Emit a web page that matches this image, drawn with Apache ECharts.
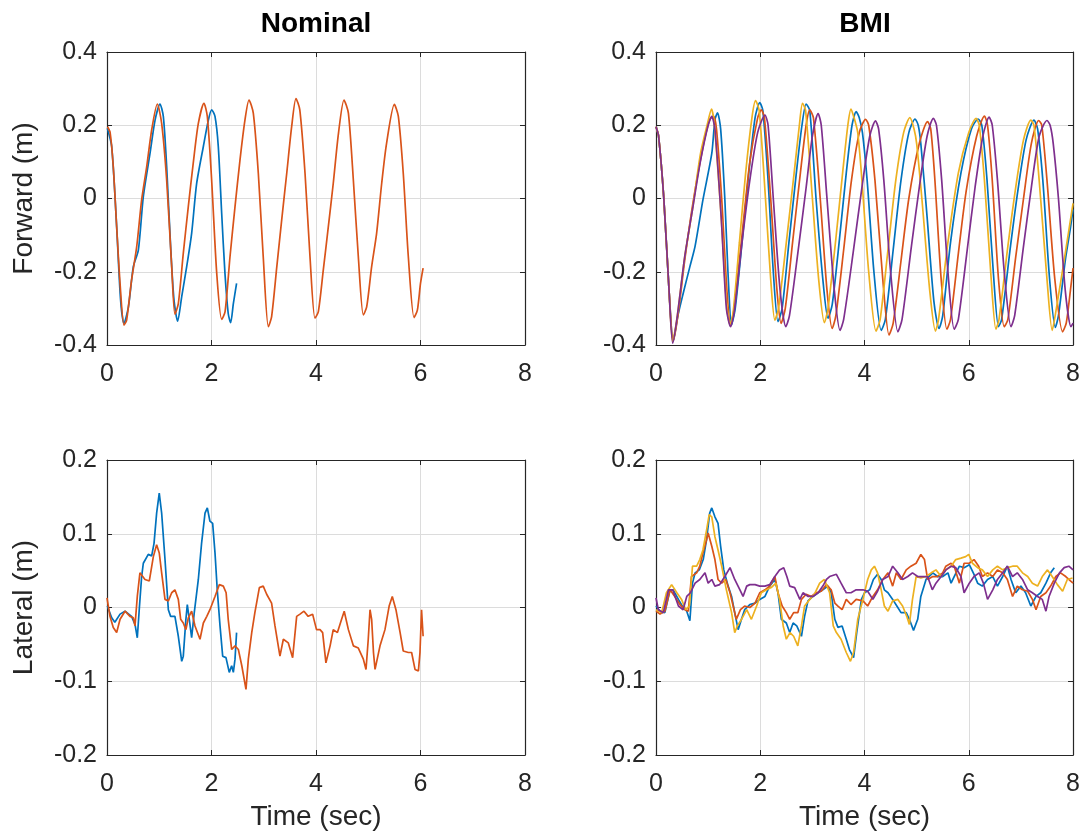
<!DOCTYPE html>
<html><head><meta charset="utf-8">
<script src="https://cdn.jsdelivr.net/npm/echarts@6/dist/echarts.min.js"></script>
<style>html,body{margin:0;padding:0;background:#fff}#c{width:1083px;height:840px}</style>
</head><body><div id="c"></div><script>
const titles = ['Nominal', 'BMI'];
const yNames = ['Forward (m)', 'Lateral (m)'];
const xName = 'Time (sec)';
const xTicks = [0, 2, 4, 6, 8];
const fwdTicks = [-0.4, -0.2, 0, 0.2, 0.4];
const latTicks = [-0.2, -0.1, 0, 0.1, 0.2];
const colors = ['#0072BD', '#D95319', '#EDB120', '#7E2F8E'];

// Nominal, forward (m)
const nomFwdBlue = [[0.006,0.192],[0.09,0.142],[0.185,-0.077],[0.26,-0.277],[0.325,-0.341],[0.41,-0.296],[0.504,-0.186],[0.6,-0.141],[0.695,0.005],[0.823,0.123],[0.92,0.214],[1.014,0.258],[1.078,0.224],[1.142,0.087],[1.218,-0.132],[1.282,-0.277],[1.352,-0.335],[1.43,-0.268],[1.525,-0.186],[1.62,-0.095],[1.716,0.041],[1.844,0.142],[1.94,0.214],[2.003,0.242],[2.067,0.224],[2.13,0.142],[2.195,-0.041],[2.258,-0.205],[2.32,-0.314],[2.367,-0.339],[2.418,-0.287],[2.48,-0.232]];
const nomFwdOrange = [[0.01,0.196],[0.06,0.18],[0.12,0.087],[0.185,-0.077],[0.25,-0.232],[0.325,-0.346],[0.376,-0.332],[0.47,-0.223],[0.568,-0.132],[0.663,-0.004],[0.76,0.087],[0.855,0.187],[0.963,0.258],[1.046,0.205],[1.142,0.05],[1.238,-0.186],[1.30,-0.316],[1.365,-0.287],[1.46,-0.15],[1.556,-0.022],[1.65,0.096],[1.748,0.205],[1.856,0.26],[1.92,0.224],[2.003,0.05],[2.10,-0.204],[2.195,-0.33],[2.26,-0.309],[2.354,-0.159],[2.45,-0.022],[2.545,0.105],[2.64,0.214],[2.718,0.269],[2.8,0.233],[2.896,0.069],[2.99,-0.159],[3.088,-0.35],[3.15,-0.323],[3.25,-0.186],[3.343,-0.059],[3.44,0.069],[3.534,0.196],[3.617,0.273],[3.69,0.242],[3.79,0.069],[3.885,-0.159],[3.98,-0.327],[4.045,-0.309],[4.14,-0.195],[4.236,-0.077],[4.33,0.041],[4.43,0.178],[4.536,0.269],[4.62,0.233],[4.715,0.05],[4.81,-0.159],[4.906,-0.318],[4.97,-0.296],[5.065,-0.186],[5.16,-0.095],[5.257,0.041],[5.35,0.15],[5.5,0.257],[5.576,0.224],[5.67,0.069],[5.767,-0.159],[5.876,-0.325],[5.94,-0.305],[6.0,-0.232],[6.05,-0.19]];

// BMI, forward (m)
const bmiFwdBlue = [[0,0.196],[0.05,0.17],[0.15,0.0],[0.25,-0.25],[0.33,-0.39],[0.42,-0.32],[0.52,-0.26],[0.65,-0.186],[0.75,-0.13],[0.9,-0.004],[1.07,0.123],[1.13,0.215],[1.18,0.234],[1.24,0.19],[1.32,0.0],[1.38,-0.2],[1.45,-0.345],[1.52,-0.3],[1.65,-0.12],[1.78,0.07],[1.9,0.22],[1.99,0.262],[2.05,0.24],[2.15,0.05],[2.25,-0.2],[2.34,-0.336],[2.42,-0.3],[2.55,-0.12],[2.7,0.08],[2.8,0.2],[2.88,0.258],[2.95,0.24],[3.07,0.0],[3.2,-0.22],[3.3,-0.327],[3.38,-0.29],[3.52,-0.11],[3.65,0.07],[3.76,0.2],[3.84,0.237],[3.9,0.22],[3.96,0.18],[4.05,0.05],[4.18,-0.2],[4.32,-0.36],[4.4,-0.33],[4.55,-0.14],[4.7,0.05],[4.85,0.18],[4.97,0.217],[5.03,0.2],[5.08,0.15],[5.2,-0.05],[5.33,-0.28],[5.43,-0.355],[5.5,-0.32],[5.65,-0.12],[5.85,0.07],[6.05,0.19],[6.18,0.217],[6.25,0.2],[6.35,0.05],[6.47,-0.2],[6.57,-0.35],[6.63,-0.33],[6.8,-0.13],[6.95,0.03],[7.1,0.16],[7.25,0.214],[7.32,0.19],[7.42,0.05],[7.55,-0.22],[7.66,-0.352],[7.72,-0.32],[7.85,-0.17],[7.95,-0.08],[8.0,-0.03]];
const bmiFwdOrange = [[0,0.196],[0.05,0.17],[0.15,0.0],[0.25,-0.25],[0.33,-0.39],[0.42,-0.32],[0.55,-0.17],[0.7,-0.02],[0.9,0.14],[1.03,0.215],[1.1,0.225],[1.16,0.19],[1.26,0.0],[1.36,-0.25],[1.43,-0.345],[1.5,-0.3],[1.65,-0.1],[1.8,0.1],[1.95,0.22],[2.02,0.242],[2.08,0.22],[2.2,0.0],[2.32,-0.25],[2.4,-0.341],[2.48,-0.3],[2.62,-0.12],[2.77,0.07],[2.88,0.2],[2.95,0.242],[3.02,0.22],[3.15,0.0],[3.28,-0.25],[3.38,-0.355],[3.45,-0.32],[3.6,-0.14],[3.75,0.05],[3.9,0.18],[4.02,0.216],[4.08,0.2],[4.2,0.05],[4.35,-0.22],[4.47,-0.373],[4.55,-0.34],[4.7,-0.17],[4.85,0.0],[5.05,0.15],[5.21,0.21],[5.27,0.19],[5.35,0.05],[5.47,-0.22],[5.58,-0.357],[5.65,-0.33],[5.8,-0.15],[5.95,0.02],[6.15,0.17],[6.3,0.225],[6.36,0.2],[6.45,0.05],[6.57,-0.22],[6.68,-0.35],[6.75,-0.33],[6.9,-0.16],[7.05,0.0],[7.2,0.15],[7.34,0.213],[7.4,0.2],[7.5,0.05],[7.65,-0.22],[7.8,-0.364],[7.87,-0.34],[7.95,-0.25],[8.0,-0.19]];
const bmiFwdYellow = [[0,0.196],[0.05,0.17],[0.15,0.0],[0.25,-0.25],[0.32,-0.39],[0.4,-0.33],[0.55,-0.16],[0.7,-0.03],[0.85,0.12],[0.98,0.2],[1.065,0.244],[1.12,0.2],[1.25,-0.05],[1.35,-0.28],[1.42,-0.345],[1.48,-0.31],[1.6,-0.12],[1.72,0.07],[1.84,0.22],[1.91,0.267],[1.98,0.24],[2.1,0.0],[2.2,-0.22],[2.28,-0.332],[2.35,-0.3],[2.5,-0.12],[2.65,0.07],[2.75,0.2],[2.81,0.26],[2.87,0.24],[3.0,0.0],[3.12,-0.22],[3.23,-0.339],[3.3,-0.3],[3.45,-0.11],[3.58,0.07],[3.68,0.2],[3.74,0.244],[3.8,0.22],[3.87,0.18],[3.95,0.05],[4.08,-0.2],[4.22,-0.362],[4.3,-0.33],[4.45,-0.14],[4.6,0.05],[4.75,0.18],[4.87,0.221],[4.95,0.19],[5.0,0.15],[5.1,0.0],[5.25,-0.25],[5.36,-0.362],[5.42,-0.33],[5.6,-0.12],[5.8,0.07],[6.0,0.18],[6.14,0.219],[6.2,0.2],[6.3,0.05],[6.42,-0.2],[6.52,-0.357],[6.58,-0.33],[6.75,-0.13],[6.9,0.03],[7.05,0.16],[7.19,0.214],[7.25,0.2],[7.35,0.05],[7.5,-0.22],[7.6,-0.36],[7.68,-0.3],[7.85,-0.15],[8.0,-0.013]];
const bmiFwdPurple = [[0,0.196],[0.05,0.17],[0.15,0.0],[0.25,-0.25],[0.32,-0.395],[0.4,-0.33],[0.55,-0.16],[0.7,-0.03],[0.85,0.1],[1.0,0.2],[1.07,0.224],[1.13,0.19],[1.25,-0.05],[1.35,-0.3],[1.43,-0.35],[1.5,-0.31],[1.65,-0.12],[1.8,0.05],[1.95,0.18],[2.09,0.228],[2.15,0.2],[2.25,0.0],[2.38,-0.25],[2.49,-0.35],[2.56,-0.32],[2.72,-0.15],[2.88,0.03],[3.0,0.17],[3.11,0.232],[3.17,0.2],[3.28,0.0],[3.42,-0.25],[3.53,-0.36],[3.6,-0.33],[3.78,-0.15],[3.95,0.03],[4.1,0.17],[4.21,0.212],[4.27,0.19],[4.37,0.05],[4.5,-0.2],[4.64,-0.364],[4.72,-0.33],[4.9,-0.13],[5.05,0.03],[5.2,0.17],[5.32,0.219],[5.38,0.2],[5.48,0.05],[5.6,-0.2],[5.72,-0.357],[5.8,-0.33],[5.97,-0.14],[6.12,0.03],[6.27,0.17],[6.39,0.222],[6.45,0.2],[6.55,0.05],[6.68,-0.2],[6.81,-0.35],[6.88,-0.32],[7.05,-0.13],[7.2,0.03],[7.35,0.17],[7.5,0.213],[7.56,0.2],[7.62,0.15],[7.72,0.0],[7.85,-0.25],[7.96,-0.35],[8.0,-0.34]];

// Nominal, lateral (m)
const nomLatBlue = [[0.006,0.002],[0.09,-0.014],[0.15,-0.02],[0.25,-0.009],[0.345,-0.005],[0.47,-0.012],[0.536,-0.023],[0.58,-0.041],[0.619,-0.001],[0.663,0.042],[0.695,0.06],[0.79,0.072],[0.855,0.07],[0.9,0.087],[0.95,0.128],[1.0,0.155],[1.046,0.128],[1.11,0.065],[1.174,-0.003],[1.218,-0.012],[1.3,-0.012],[1.365,-0.039],[1.43,-0.073],[1.46,-0.066],[1.51,-0.016],[1.537,0.004],[1.575,-0.016],[1.62,-0.041],[1.67,-0.007],[1.748,0.038],[1.81,0.087],[1.876,0.128],[1.92,0.135],[1.97,0.117],[2.022,0.114],[2.067,0.074],[2.11,0.024],[2.163,-0.025],[2.214,-0.066],[2.277,-0.068],[2.34,-0.088],[2.386,-0.079],[2.418,-0.088],[2.45,-0.07],[2.48,-0.034]];
const nomLatOrange = [[0,0.013],[0.057,-0.012],[0.12,-0.027],[0.185,-0.034],[0.25,-0.016],[0.345,-0.005],[0.44,-0.012],[0.504,-0.014],[0.536,-0.025],[0.58,0.015],[0.63,0.047],[0.727,0.038],[0.81,0.036],[0.887,0.069],[0.95,0.085],[1.0,0.074],[1.046,0.047],[1.11,0.011],[1.174,0.009],[1.238,0.02],[1.30,0.024],[1.365,0.011],[1.41,-0.016],[1.46,-0.021],[1.51,-0.03],[1.556,-0.014],[1.62,-0.005],[1.684,-0.025],[1.78,-0.043],[1.844,-0.021],[1.91,-0.012],[1.97,-0.003],[2.067,0.015],[2.15,0.031],[2.226,0.029],[2.28,0.02],[2.32,-0.016],[2.386,-0.057],[2.45,-0.052],[2.514,-0.057],[2.58,-0.079],[2.66,-0.111],[2.705,-0.07],[2.77,-0.034],[2.83,-0.007],[2.916,0.027],[2.99,0.029],[3.056,0.018],[3.15,0.006],[3.215,-0.025],[3.31,-0.066],[3.375,-0.043],[3.47,-0.048],[3.553,-0.068],[3.63,-0.012],[3.694,-0.009],[3.77,-0.005],[3.85,-0.012],[3.935,-0.009],[4.01,-0.03],[4.077,-0.03],[4.127,-0.034],[4.19,-0.075],[4.27,-0.052],[4.33,-0.03],[4.41,-0.034],[4.49,-0.016],[4.54,-0.005],[4.62,-0.03],[4.715,-0.052],[4.81,-0.055],[4.906,-0.07],[4.957,-0.084],[5.0,-0.043],[5.034,-0.003],[5.065,-0.016],[5.1,-0.061],[5.13,-0.084],[5.225,-0.052],[5.32,-0.03],[5.4,0.002],[5.46,0.015],[5.53,-0.003],[5.61,-0.034],[5.67,-0.059],[5.767,-0.061],[5.83,-0.061],[5.895,-0.084],[5.96,-0.086],[5.99,-0.061],[6.02,-0.003],[6.05,-0.039]];

// BMI, lateral (m)
const bmiLatBlue = [[0,0.002],[0.077,-0.005],[0.17,-0.007],[0.27,0.024],[0.33,0.024],[0.43,0.011],[0.52,0],[0.59,-0.005],[0.65,-0.018],[0.7,0.033],[0.75,0.047],[0.83,0.051],[0.906,0.065],[0.97,0.092],[1.03,0.128],[1.07,0.135],[1.13,0.123],[1.19,0.114],[1.24,0.083],[1.3,0.051],[1.384,0.029],[1.45,0.015],[1.51,-0.007],[1.576,-0.03],[1.64,-0.016],[1.7,-0.003],[1.8,0.004],[1.9,0.006],[1.99,0.011],[2.09,0.015],[2.18,0.029],[2.28,0.038],[2.34,0.02],[2.405,-0.016],[2.5,-0.021],[2.565,-0.034],[2.63,-0.021],[2.7,-0.025],[2.79,-0.039],[2.85,-0.012],[2.915,0.009],[3.01,0.015],[3.11,0.02],[3.2,0.024],[3.3,0.029],[3.36,0.02],[3.43,-0.016],[3.49,-0.027],[3.57,-0.025],[3.65,-0.043],[3.71,-0.057],[3.79,-0.068],[3.85,-0.034],[3.94,0.011],[4.0,0.02],[4.1,0.024],[4.17,0.038],[4.25,0.045],[4.32,0.038],[4.38,0.024],[4.45,0.02],[4.54,0.011],[4.62,0.002],[4.7,-0.007],[4.8,-0.007],[4.86,-0.016],[4.94,-0.031],[5.02,-0.016],[5.08,0.015],[5.18,0.038],[5.31,0.047],[5.4,0.042],[5.5,0.042],[5.6,0.047],[5.66,0.033],[5.72,0.042],[5.82,0.056],[5.91,0.054],[6.01,0.058],[6.1,0.045],[6.17,0.033],[6.26,0.029],[6.36,0.038],[6.46,0.042],[6.55,0.029],[6.65,0.042],[6.74,0.056],[6.81,0.038],[6.9,0.02],[7.0,0.029],[7.09,0.02],[7.19,0.002],[7.29,0.015],[7.38,0.02],[7.48,0.033],[7.57,0.047],[7.64,0.054]];
const bmiLatOrange = [[0,-0.005],[0.077,-0.009],[0.17,-0.005],[0.27,0.024],[0.36,0.015],[0.46,0.004],[0.555,-0.003],[0.62,-0.005],[0.68,0.042],[0.78,0.047],[0.84,0.056],[0.9,0.074],[0.97,0.092],[1.0,0.101],[1.07,0.083],[1.13,0.065],[1.19,0.038],[1.26,0.033],[1.34,0.038],[1.42,0.02],[1.48,0.002],[1.54,-0.016],[1.62,-0.003],[1.7,0.002],[1.8,0],[1.9,0.006],[1.99,0.02],[2.09,0.024],[2.18,0.029],[2.28,0.042],[2.34,0.02],[2.42,0.002],[2.5,-0.007],[2.565,-0.016],[2.64,-0.007],[2.72,-0.007],[2.79,0.011],[2.88,0.018],[2.98,0.015],[3.07,0.02],[3.17,0.022],[3.27,0.031],[3.36,0.024],[3.43,0.006],[3.49,0.002],[3.57,-0.003],[3.65,0.011],[3.74,0.004],[3.84,0.011],[3.97,0.009],[4.06,0.002],[4.16,0.015],[4.25,0.024],[4.35,0.038],[4.45,0.047],[4.54,0.029],[4.61,0.047],[4.7,0.038],[4.8,0.051],[4.89,0.056],[4.99,0.06],[5.08,0.072],[5.15,0.065],[5.21,0.038],[5.31,0.042],[5.4,0.042],[5.5,0.047],[5.56,0.056],[5.66,0.06],[5.72,0.056],[5.82,0.033],[5.91,0.06],[6.01,0.06],[6.1,0.065],[6.19,0.056],[6.26,0.042],[6.36,0.047],[6.46,0.042],[6.55,0.051],[6.65,0.047],[6.74,0.038],[6.84,0.015],[6.93,0.029],[7.03,0.024],[7.13,0.022],[7.22,0.011],[7.29,-0.003],[7.38,0.015],[7.48,0.02],[7.57,0.029],[7.67,0.042],[7.76,0.047],[7.86,0.042],[7.95,0.036],[8.0,0.033]];
const bmiLatYellow = [[0,-0.003],[0.11,-0.007],[0.2,0.02],[0.3,0.031],[0.4,0.02],[0.49,0.011],[0.57,-0.003],[0.64,0.002],[0.7,0.056],[0.78,0.056],[0.84,0.065],[0.9,0.078],[0.97,0.105],[1.02,0.126],[1.07,0.123],[1.13,0.096],[1.19,0.078],[1.26,0.056],[1.35,0.024],[1.45,-0.007],[1.51,-0.034],[1.56,-0.025],[1.64,-0.016],[1.74,-0.003],[1.83,-0.016],[1.93,0.002],[2.02,0.02],[2.12,0.024],[2.21,0.027],[2.3,0.033],[2.37,0.011],[2.44,-0.025],[2.5,-0.043],[2.57,-0.034],[2.64,-0.039],[2.72,-0.052],[2.79,-0.025],[2.85,0.002],[2.95,0.011],[3.04,0.018],[3.14,0.033],[3.23,0.038],[3.33,0.02],[3.4,-0.025],[3.46,-0.034],[3.55,-0.043],[3.65,-0.061],[3.73,-0.073],[3.79,-0.061],[3.87,-0.016],[3.97,0.011],[4.06,0.038],[4.13,0.051],[4.19,0.056],[4.25,0.047],[4.32,0.024],[4.38,0.002],[4.45,-0.005],[4.54,0.009],[4.64,0.011],[4.73,0.002],[4.81,-0.012],[4.86,-0.023],[4.92,0.011],[4.99,0.042],[5.08,0.04],[5.18,0.042],[5.28,0.047],[5.37,0.051],[5.47,0.042],[5.56,0.051],[5.66,0.056],[5.75,0.065],[5.85,0.067],[5.94,0.069],[6.0,0.072],[6.07,0.06],[6.17,0.054],[6.26,0.051],[6.36,0.042],[6.46,0.051],[6.55,0.056],[6.65,0.051],[6.74,0.054],[6.84,0.056],[6.93,0.056],[7.03,0.047],[7.13,0.042],[7.22,0.033],[7.32,0.029],[7.41,0.042],[7.51,0.051],[7.6,0.042],[7.7,0.031],[7.8,0.022],[7.89,0.038],[7.99,0.04]];
const bmiLatPurple = [[0,0.013],[0.045,-0.003],[0.14,-0.007],[0.24,0.024],[0.32,0.024],[0.43,0.002],[0.52,-0.003],[0.59,0.015],[0.66,0.02],[0.75,0.033],[0.84,0.038],[0.94,0.047],[1.0,0.033],[1.07,0.038],[1.13,0.029],[1.22,0.031],[1.32,0.042],[1.42,0.054],[1.51,0.038],[1.61,0.024],[1.67,0.015],[1.74,0.029],[1.8,0.031],[1.9,0.031],[1.99,0.029],[2.09,0.029],[2.18,0.031],[2.28,0.042],[2.37,0.051],[2.45,0.054],[2.51,0.042],[2.565,0.029],[2.66,0.027],[2.76,0.011],[2.82,0.02],[2.92,0.015],[3.01,0.015],[3.11,0.02],[3.2,0.029],[3.27,0.038],[3.33,0.042],[3.46,0.045],[3.55,0.033],[3.65,0.02],[3.74,0.02],[3.84,0.024],[3.97,0.024],[4.06,0.022],[4.16,0.011],[4.25,0.022],[4.35,0.038],[4.45,0.042],[4.54,0.056],[4.64,0.047],[4.73,0.038],[4.83,0.042],[4.92,0.047],[5.02,0.042],[5.12,0.042],[5.21,0.042],[5.3,0.024],[5.37,0.033],[5.47,0.042],[5.56,0.051],[5.66,0.056],[5.75,0.054],[5.85,0.042],[5.91,0.02],[6.01,0.033],[6.1,0.042],[6.2,0.047],[6.28,0.033],[6.36,0.011],[6.46,0.024],[6.55,0.038],[6.65,0.047],[6.74,0.056],[6.84,0.042],[6.93,0.047],[7.03,0.038],[7.13,0.024],[7.22,0.02],[7.32,0.015],[7.41,0.011],[7.48,-0.005],[7.54,0.015],[7.64,0.033],[7.74,0.047],[7.83,0.054],[7.92,0.056],[8.0,0.051]];

const panels = [
  { title: titles[0], yName: yNames[0], ticks: fwdTicks, showX: false, smooth: 0.25, series: [nomFwdBlue, nomFwdOrange] },
  { title: titles[1], yName: '', ticks: fwdTicks, showX: false, smooth: 0.25, series: [bmiFwdBlue, bmiFwdOrange, bmiFwdYellow, bmiFwdPurple] },
  { title: '', yName: yNames[1], ticks: latTicks, showX: true, smooth: false, series: [nomLatBlue, nomLatOrange] },
  { title: '', yName: '', ticks: latTicks, showX: true, smooth: false, series: [bmiLatBlue, bmiLatOrange, bmiLatYellow, bmiLatPurple] }
];

const FONT = '"Liberation Sans", Arial, Helvetica, sans-serif';
const INK = '#262626';
const gridBoxes = [
  { left: 107, top: 52, width: 418, height: 293 },
  { left: 656, top: 52, width: 418, height: 293 },
  { left: 107, top: 460, width: 418, height: 295 },
  { left: 656, top: 460, width: 418, height: 295 }
];

const xAxes = [], yAxes = [], series = [], titleOpts = [];
panels.forEach((p, i) => {
  const xStep = xTicks[1] - xTicks[0];
  const yStep = +(p.ticks[1] - p.ticks[0]).toFixed(4);
  const line = { show: true, onZero: false, lineStyle: { color: INK, width: 1.2 } };
  const tick = { show: true, inside: true, length: 5, lineStyle: { color: INK, width: 1 } };
  xAxes.push({
    type: 'value', gridIndex: i, position: 'bottom', min: xTicks[0], max: xTicks[xTicks.length - 1], interval: xStep,
    axisLine: line, axisTick: tick,
    name: p.showX ? xName : '', nameLocation: 'middle', nameGap: 48,
    nameTextStyle: { fontFamily: FONT, fontSize: 28, color: INK },
    axisLabel: { fontFamily: FONT, fontSize: 25, color: INK, margin: 17 },
    splitLine: { show: true, lineStyle: { color: '#dcdcdc', width: 1 } }
  });
  xAxes.push({
    type: 'value', gridIndex: i, position: 'top', min: xTicks[0], max: xTicks[xTicks.length - 1], interval: xStep,
    axisLine: line, axisTick: tick, axisLabel: { show: false }, splitLine: { show: false }
  });
  yAxes.push({
    type: 'value', gridIndex: i, position: 'left', min: p.ticks[0], max: p.ticks[p.ticks.length - 1], interval: yStep,
    axisLine: line, axisTick: tick,
    name: p.yName, nameLocation: 'middle', nameGap: 69, nameRotate: 90,
    nameTextStyle: { fontFamily: FONT, fontSize: 28, color: INK },
    axisLabel: { fontFamily: FONT, fontSize: 25, color: INK, margin: 10 },
    splitLine: { show: true, lineStyle: { color: '#dcdcdc', width: 1 } }
  });
  yAxes.push({
    type: 'value', gridIndex: i, position: 'right', min: p.ticks[0], max: p.ticks[p.ticks.length - 1], interval: yStep,
    axisLine: line, axisTick: tick, axisLabel: { show: false }, splitLine: { show: false }
  });
  p.series.forEach((d, k) => {
    series.push({ type: 'line', xAxisIndex: 2 * i, yAxisIndex: 2 * i, data: d, showSymbol: false,
      symbol: 'none', smooth: p.smooth,
      lineStyle: { color: colors[k], width: 1.7 }, itemStyle: { color: colors[k] },
      z: 2 + k, silent: true, animation: false });
  });
  if (p.title) {
    titleOpts.push({ text: p.title, left: gridBoxes[i].left + gridBoxes[i].width / 2, top: 10, textAlign: 'center', padding: 0,
      textStyle: { fontFamily: FONT, fontSize: 28, fontWeight: 'bold', color: '#000' } });
  }
});

const chart = echarts.init(document.getElementById('c'), null, { renderer: 'canvas' });
chart.setOption({
  animation: false,
  backgroundColor: '#fff',
  title: titleOpts,
  grid: gridBoxes,
  xAxis: xAxes,
  yAxis: yAxes,
  series: series
});
</script></body></html>
